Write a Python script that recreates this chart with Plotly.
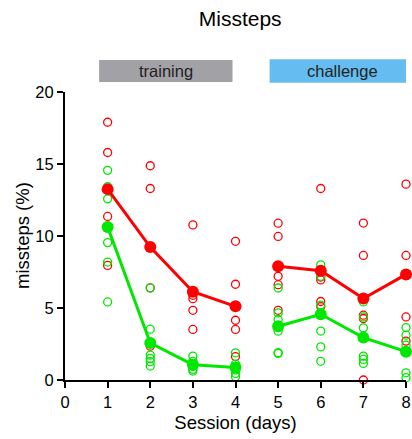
import plotly.graph_objects as go

sessions = [1, 2, 3, 4, 5, 6, 7, 8]

red_points = [
    [17.9, 15.8, 11.36, 7.96],
    [14.88, 13.3, 6.4, 2.35],
    [10.77, 5.88, 5.65, 4.84, 3.51],
    [9.63, 6.65, 4.15, 3.51, 1.63],
    [10.89, 9.97, 7.2, 6.62, 4.84],
    [13.3, 7.15, 6.95, 5.45, 5.1],
    [10.9, 8.65, 4.5, 4.27, 0.0],
    [13.6, 8.65, 4.38, 2.7],
]
green_points = [
    [14.56, 13.43, 12.58, 9.54, 8.19, 5.42],
    [6.4, 3.53, 1.73, 1.5, 1.27, 0.97],
    [1.66, 1.3, 1.1, 0.95, 0.74, 0.62],
    [1.89, 1.1, 0.69, 0.46, 0.23],
    [6.39, 4.66, 4.2, 3.39, 1.85, 1.9],
    [8.0, 7.2, 5.2, 3.4, 2.3, 1.3],
    [5.42, 4.38, 3.62, 1.66, 1.43, 1.15],
    [3.64, 3.11, 2.42, 0.5, 0.16],
]

red_mean = [sum(v) / len(v) for v in red_points]
green_mean = [sum(v) / len(v) for v in green_points]

RED = "#FF0000"
GREEN = "#00E800"

fig = go.Figure()

def scatter_points(pts, color):
    xs, ys = [], []
    for s, vals in zip(sessions, pts):
        for v in vals:
            xs.append(s)
            ys.append(v)
    fig.add_trace(go.Scatter(
        x=xs, y=ys, mode="markers", cliponaxis=False,
        marker=dict(symbol="circle-open", size=8, color=color, line=dict(width=1.3, color=color)),
        showlegend=False, hoverinfo="skip"))

scatter_points(red_points, RED)
scatter_points(green_points, GREEN)

for seg in (slice(0, 4), slice(4, 8)):
    fig.add_trace(go.Scatter(
        x=sessions[seg], y=red_mean[seg], mode="lines+markers", cliponaxis=False,
        line=dict(color=RED, width=3), marker=dict(size=12, color=RED),
        showlegend=False))
    fig.add_trace(go.Scatter(
        x=sessions[seg], y=green_mean[seg], mode="lines+markers", cliponaxis=False,
        line=dict(color=GREEN, width=3), marker=dict(size=12, color=GREEN),
        showlegend=False))

# phase label boxes
fig.add_shape(type="rect", xref="x", yref="paper", x0=0.8, x1=3.93, y0=1.035, y1=1.111,
              fillcolor="#A2A1A6", line=dict(width=0), layer="above")
fig.add_shape(type="rect", xref="x", yref="paper", x0=4.8, x1=8.2, y0=1.032, y1=1.114,
              fillcolor="#64BCF0", line=dict(width=0), layer="above")
fig.add_annotation(x=2.365, xref="x", y=1.073, yref="paper", yanchor="middle", text="training",
                   showarrow=False, font=dict(size=16.5, color="#222222"))
fig.add_annotation(x=6.5, xref="x", y=1.073, yref="paper", yanchor="middle", text="challenge",
                   showarrow=False, font=dict(size=16.5, color="#222222"))
# y axis title
fig.add_annotation(x=-0.126, xref="paper", y=0.5, yref="paper", xanchor="center", yanchor="middle",
                   text="missteps (%)", textangle=-90, showarrow=False,
                   font=dict(size=18.5, color="black"))

fig.update_layout(
    width=412, height=439,
    margin=dict(l=65, r=6, t=92, b=59, autoexpand=False),
    paper_bgcolor="white", plot_bgcolor="white",
    font=dict(family="Liberation Sans, Arial, sans-serif", color="black", size=16),
    title=dict(text="Missteps", x=0.583, xanchor="center", y=0.957, yanchor="middle",
               font=dict(size=21, color="black")),
    xaxis=dict(range=[0, 8], tickvals=[0, 1, 2, 3, 4, 5, 6, 7, 8], showgrid=False, zeroline=False,
               showline=True, linecolor="black", linewidth=2, ticks="outside", ticklen=6,
               tickwidth=2, tickcolor="black", tickfont=dict(size=16.5), automargin=False,
               title=dict(text="Session (days)", font=dict(size=18.5), standoff=6)),
    yaxis=dict(range=[0, 20], tickvals=[0, 5, 10, 15, 20], showgrid=False, zeroline=False,
               showline=True, linecolor="black", linewidth=2, ticks="outside", ticklen=6,
               tickwidth=2, tickcolor="black", tickfont=dict(size=16.5), automargin=False),
)

fig.write_html("out.html", config={"staticPlot": True, "displayModeBar": False},
               post_script="document.body.style.margin='0';document.body.style.overflow='hidden';")
